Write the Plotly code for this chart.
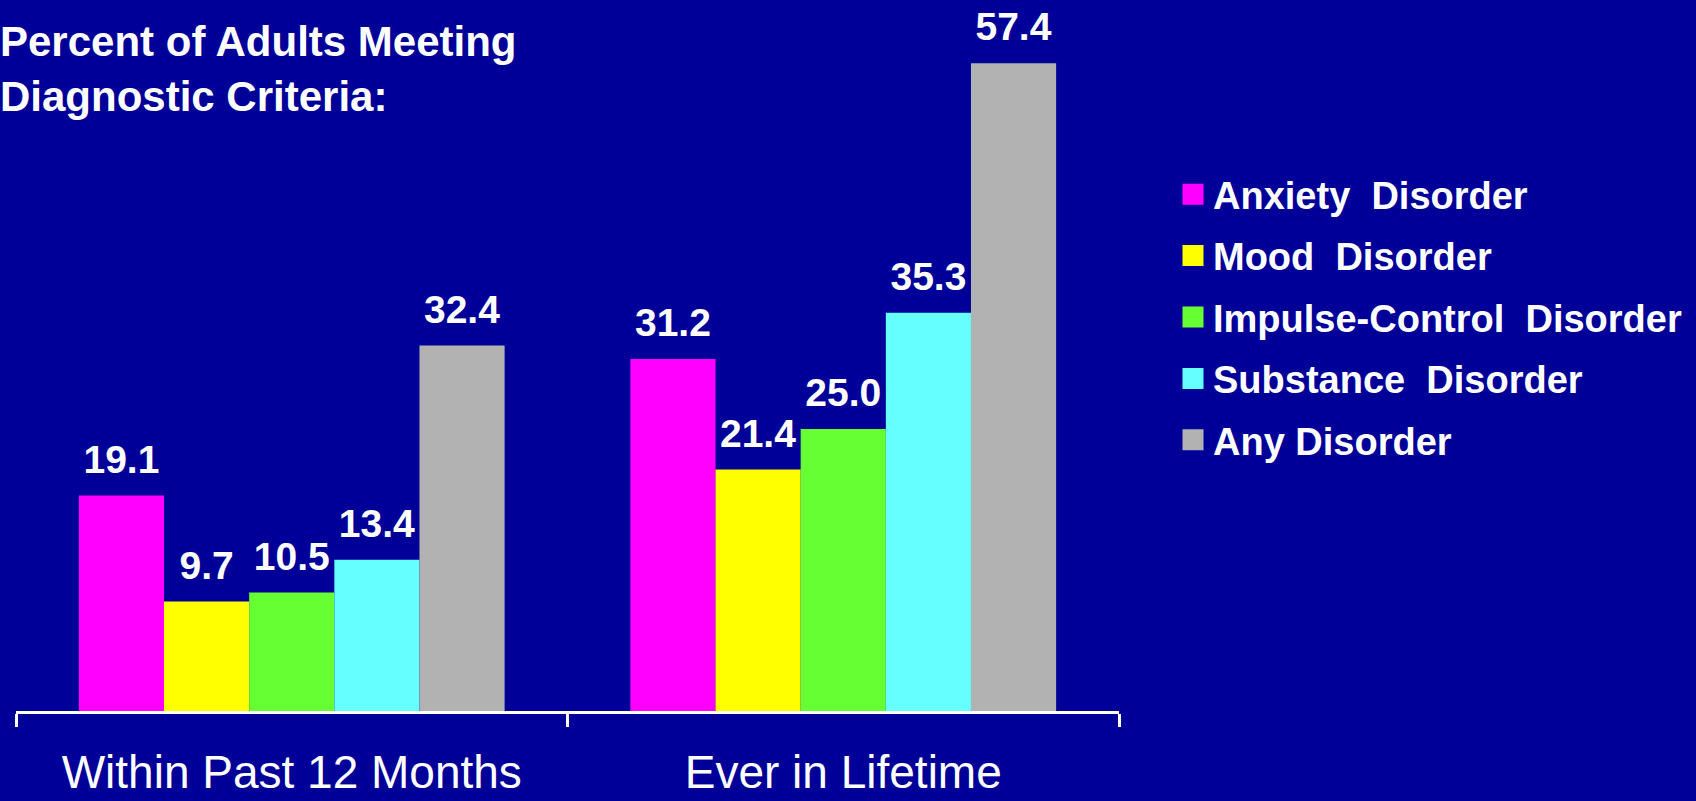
import plotly.graph_objects as go

categories = ["Within Past 12 Months", "Ever in Lifetime"]
series = ["Anxiety Disorder", "Mood Disorder", "Impulse-Control Disorder",
          "Substance Disorder", "Any Disorder"]
legend_labels = ["Anxiety\u00a0 Disorder", "Mood\u00a0 Disorder",
                 "Impulse-Control\u00a0 Disorder", "Substance\u00a0 Disorder",
                 "Any Disorder"]
anxiety = [19.1, 31.2]
mood = [9.7, 21.4]
impulse = [10.5, 25.0]
substance = [13.4, 35.3]
any_disorder = [32.4, 57.4]
values = [anxiety, mood, impulse, substance, any_disorder]
colors = ["#FF00FF", "#FFFF00", "#66FF33", "#66FFFF", "#B2B2B2"]

BG = "#000099"
W, H = 1696, 801
L, R, T, B = 16, 577, 34, 90

fig = go.Figure()
for name, color, vals in zip(series, colors, values):
    fig.add_trace(go.Bar(
        x=categories, y=vals, name=name,
        marker=dict(color=color, line=dict(width=0)),
        texttemplate="<span style='font-size:39px'>%{y:.1f}</span><br>\u00a0",
        textposition="outside",
        textfont=dict(family="Liberation Sans", size=13, color="white", weight="bold"),
        constraintext="none",
        cliponaxis=False,
        showlegend=False,
    ))

for lab, name, color in zip(legend_labels, series, colors):
    fig.add_trace(go.Scatter(
        x=[None], y=[None], mode="markers", name=lab, legendgroup=name,
        marker=dict(symbol="square", size=16, color=color,
                    line=dict(color=color, width=5)),
        showlegend=True, hoverinfo="skip",
    ))

plot_w = W - L - R
plot_h = H - T - B

fig.update_layout(
    width=W, height=H,
    margin=dict(l=L, r=R, t=T, b=B, pad=0, autoexpand=False),
    paper_bgcolor=BG, plot_bgcolor=BG,
    barmode="group", bargap=0.228, bargroupgap=0,
    title=dict(
        text="Percent of Adults Meeting<br>Diagnostic Criteria:",
        x=0, xref="container", xanchor="left",
        y=1 - 56 / H, yref="container", yanchor="top",
        font=dict(family="Liberation Sans", size=42, color="white", weight="bold"),
        automargin=False,
    ),
    legend=dict(
        x=(1173 - L) / plot_w, xanchor="left",
        y=(H - B - 163) / plot_h, yanchor="top",
        font=dict(family="Liberation Sans", size=38, color="white", weight="bold"),
        bgcolor="rgba(0,0,0,0)", borderwidth=0,
        tracegroupgap=9, traceorder="grouped", itemwidth=30,
    ),
    xaxis=dict(
        showline=True, linecolor="white", linewidth=3,
        ticks="outside", tickson="boundaries", ticklen=13, tickwidth=3,
        tickcolor="white", showgrid=False, automargin=False,
        tickfont=dict(family="Liberation Sans", size=46, color="white"),
        ticklabelstandoff=19,
    ),
    yaxis=dict(range=[0, 60], visible=False, showgrid=False, zeroline=False,
               automargin=False),
    font=dict(family="Liberation Sans", color="white"),
)

fig.write_html("out.html")
